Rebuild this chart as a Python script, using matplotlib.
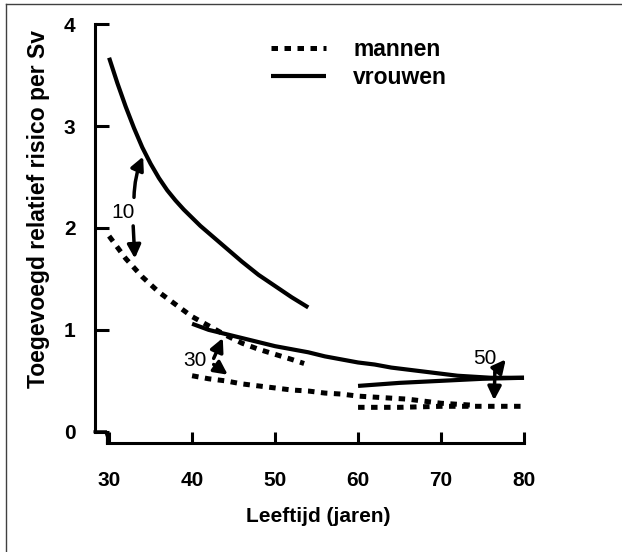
import matplotlib
matplotlib.use("Agg")
import matplotlib.pyplot as plt
from matplotlib.lines import Line2D

plt.rcParams["font.family"] = ["Liberation Sans", "DejaVu Sans"]

# vrouwen (solid)
vrouw1_age = [30, 31, 32, 33, 34, 35, 36, 37, 38, 39, 40, 41, 42, 44, 46, 48, 50, 52, 54]
vrouw1_risk = [3.67, 3.42, 3.19, 2.98, 2.79, 2.63, 2.49, 2.37, 2.27, 2.18, 2.10,
               2.02, 1.95, 1.81, 1.67, 1.54, 1.43, 1.32, 1.22]
vrouw2_age = [40, 42, 44, 46, 48, 50, 52, 54, 56, 58, 60, 62, 64, 66, 68, 70, 72, 74, 76, 78, 80]
vrouw2_risk = [1.06, 1.00, 0.96, 0.92, 0.88, 0.84, 0.81, 0.78, 0.74, 0.71, 0.68, 0.66,
               0.63, 0.61, 0.59, 0.57, 0.55, 0.54, 0.53, 0.53, 0.53]
vrouw3_age = [60, 65, 70, 75, 80]
vrouw3_risk = [0.45, 0.48, 0.50, 0.52, 0.53]

# mannen (dotted)
man1_age = [30, 32, 34, 36, 38, 40, 42, 44, 46, 48, 50, 52, 53.5]
man1_risk = [1.92, 1.70, 1.52, 1.37, 1.25, 1.13, 1.04, 0.95, 0.87, 0.81, 0.76, 0.71, 0.67]
man2_age = [40, 42, 44, 46, 48, 50, 52, 54, 56, 58, 60, 62, 64, 66, 68, 70, 72, 74]
man2_risk = [0.55, 0.52, 0.50, 0.47, 0.45, 0.43, 0.41, 0.40, 0.38, 0.37, 0.35, 0.34,
             0.33, 0.32, 0.30, 0.28, 0.27, 0.26]
man3_age = [60, 65, 70, 75, 80]
man3_risk = [0.24, 0.24, 0.25, 0.25, 0.25]

fig = plt.figure(figsize=(6.22, 5.52), dpi=100)
ax = fig.add_axes([95 / 622, 109 / 552, 434 / 622, 424 / 552])

solid = dict(color="black", lw=3.0, solid_capstyle="butt")
dotted = dict(color="black", lw=3.6, linestyle=(0, (1.3, 1.3)))

ax.plot(man1_age, man1_risk, label="mannen", **dotted)
ax.plot(man2_age, man2_risk, **dotted)
ax.plot(man3_age, man3_risk, **dotted)
ax.plot(vrouw1_age, vrouw1_risk, label="vrouwen", **solid)
ax.plot(vrouw2_age, vrouw2_risk, **solid)
ax.plot(vrouw3_age, vrouw3_risk, **solid)

ax.set_xlim(28.3, 80.6)
ax.set_ylim(-0.11, 4.05)
ax.set_xticks([30, 40, 50, 60, 70, 80])
ax.set_yticks([0, 1, 2, 3, 4])
for s in ["top", "right"]:
    ax.spines[s].set_visible(False)
ax.spines["left"].set_bounds(0, 4)
ax.spines["bottom"].set_bounds(29.8, 80)
ax.spines["left"].set_linewidth(2.2)
ax.spines["bottom"].set_linewidth(2.2)
ax.tick_params(axis="y", direction="in", length=10, width=2.2, pad=14, labelsize=15)
ax.tick_params(axis="x", direction="in", length=8, width=2.2, pad=20, labelsize=15)
for t in ax.get_xticklabels() + ax.get_yticklabels():
    t.set_fontweight("bold")
# little step joining the two axes
ax.plot([28.3, 29.6, 29.8, 29.8], [0, 0, -0.05, -0.11], color="black", lw=2.2,
        clip_on=False, solid_joinstyle="miter")

ax.set_ylabel("Toegevoegd relatief risico per Sv", fontsize=16.5, fontweight="bold")
ax.yaxis.set_label_coords(-0.104, 0.552)
ax.set_xlabel("Leeftijd (jaren)", fontsize=15, fontweight="bold", va="top")
ax.xaxis.set_label_coords(0.514, -0.15)

arrow = dict(arrowstyle="-|>", color="black", lw=2.5, mutation_scale=20,
             shrinkA=0, shrinkB=0)
# 10
ax.text(31.7, 2.15, "10", fontsize=15, ha="center", va="center")
ax.annotate("", xy=(34.1, 2.70), xytext=(33.0, 2.30),
            arrowprops=dict(connectionstyle="arc3,rad=-0.1", **arrow))
ax.annotate("", xy=(33.1, 1.70), xytext=(32.9, 2.02),
            arrowprops=dict(connectionstyle="arc3,rad=0", **arrow))
# 30
ax.text(40.4, 0.70, "30", fontsize=15, ha="center", va="center")
ax.annotate("", xy=(43.7, 0.92), xytext=(42.6, 0.72), arrowprops=arrow)
ax.annotate("", xy=(44.3, 0.56), xytext=(42.6, 0.66), arrowprops=arrow)
# 50
ax.text(75.3, 0.72, "50", fontsize=15, ha="center", va="center")
ax.annotate("", xy=(77.8, 0.71), xytext=(76.5, 0.58), arrowprops=arrow)
ax.annotate("", xy=(76.4, 0.31), xytext=(76.5, 0.62), arrowprops=arrow)

leg = ax.legend(loc="upper left", bbox_to_anchor=(0.405, 0.955), frameon=False,
                handlelength=2.4, handletextpad=1.2, labelspacing=0.22,
                borderpad=0, borderaxespad=0, prop={"size": 16.5, "weight": "bold"})

# frame line on top and left of the picture
fig.add_artist(Line2D([6 / 622, 6 / 622], [0, 1 - 4 / 552], color="#404040", lw=1))
fig.add_artist(Line2D([6 / 622, 1], [1 - 4 / 552, 1 - 4 / 552], color="#404040", lw=1))

fig.savefig("out.png", dpi=100)
